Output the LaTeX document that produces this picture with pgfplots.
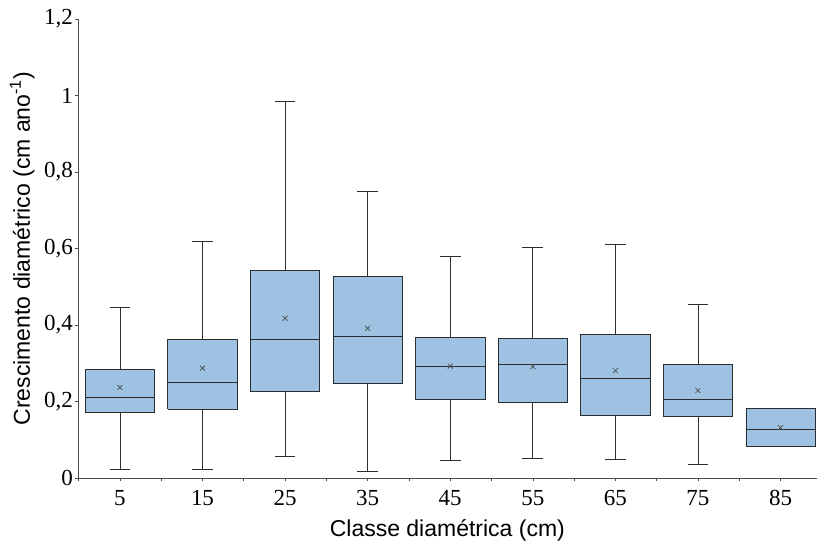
\documentclass[border=0pt]{standalone}
\usepackage{fontspec}
\setmainfont{Liberation Serif}
\newfontfamily\sansf{Liberation Sans}
\usepackage{pgfplots}
\pgfplotsset{compat=1.18}
\definecolor{boxblue}{RGB}{158,195,226}
\definecolor{edge}{RGB}{45,45,45}
% #1 position, #2 lower whisker, #3 lower quartile, #4 median, #5 upper quartile, #6 upper whisker
\newcommand\bx[6]{%
  \addplot[draw=edge, line width=0.7pt] table[row sep=\\, x expr=\thisrow{x}+#1] {x y\\ 0 #3\\ 0 #2\\};
  \addplot[draw=edge, line width=0.7pt] table[row sep=\\, x expr=\thisrow{x}+#1] {x y\\ 0 #5\\ 0 #6\\};
  \addplot[draw=edge, line width=0.7pt] table[row sep=\\, x expr=\thisrow{x}+#1] {x y\\ -0.125 #2\\ 0.125 #2\\};
  \addplot[draw=edge, line width=0.7pt] table[row sep=\\, x expr=\thisrow{x}+#1] {x y\\ -0.125 #6\\ 0.125 #6\\};
  \addplot[draw=edge, fill=boxblue, line width=0.7pt] table[row sep=\\, x expr=\thisrow{x}+#1] {x y\\ -0.42 #3\\ 0.42 #3\\ 0.42 #5\\ -0.42 #5\\ -0.42 #3\\};
  \addplot[draw=edge, line width=0.8pt] table[row sep=\\, x expr=\thisrow{x}+#1] {x y\\ -0.42 #4\\ 0.42 #4\\};
}
\begin{document}
\begin{tikzpicture}
\begin{axis}[name=ax, scale only axis, width=739pt, height=459.2pt,
  xmin=-0.508, xmax=8.438, ymin=0, ymax=1.2,
  axis x line*=bottom, axis y line*=left,
  axis line style={draw=black!70, line width=0.6pt},
  xtick={0,1,2,3,4,5,6,7,8},
  xticklabels={5,15,25,35,45,55,65,75,85},
  minor xtick={-0.5,0.5,1.5,2.5,3.5,4.5,5.5,6.5,7.5},
  ytick={0,0.2,0.4,0.6,0.8,1,1.2},
  yticklabels={0,{0,2},{0,4},{0,6},{0,8},1,{1,2}},
  tick align=outside, major tick length=3pt, minor tick length=3pt,
  tick style={draw=black!70, line width=0.6pt},
  /pgf/number format/assume math mode=true,
  ticklabel style={font=\fontsize{23}{23}\selectfont},
  xticklabel style={yshift=-6pt},
  yticklabel style={inner xsep=2pt},
]
\bx{0}{0.0235}{0.171}{0.212}{0.285}{0.447}
\bx{1}{0.0235}{0.180}{0.251}{0.363}{0.619}
\bx{2}{0.058}{0.2256}{0.3615}{0.5426}{0.985}
\bx{3}{0.0183}{0.2465}{0.371}{0.528}{0.749}
\bx{4}{0.047}{0.2047}{0.2917}{0.3675}{0.581}
\bx{5}{0.0504}{0.1986}{0.297}{0.366}{0.602}
\bx{6}{0.0487}{0.163}{0.261}{0.376}{0.6116}
\bx{7}{0.0366}{0.161}{0.2065}{0.298}{0.4548}
\addplot[draw=edge, fill=boxblue, line width=0.7pt] table[row sep=\\] {x y\\ 7.58 0.0836\\ 8.42 0.0836\\ 8.42 0.183\\ 7.58 0.183\\ 7.58 0.0836\\};
\addplot[draw=edge, line width=0.8pt] table[row sep=\\] {x y\\ 7.58 0.128\\ 8.42 0.128\\};
\addplot[only marks, mark=x, mark size=3.5pt, draw=black!70, line width=0.7pt] coordinates {
(0,0.237) (1,0.2875) (2,0.418) (3,0.392) (4,0.2927) (5,0.2917) (6,0.281) (7,0.229) (8,0.132)};
\end{axis}
\node[rotate=90, anchor=base, font=\sansf\fontsize{23}{23}\selectfont] at ([xshift=-48pt]ax.west) {Crescimento diamétrico (cm ano\textsuperscript{-1})};
\node[anchor=base, font=\sansf\fontsize{23}{23}\selectfont] at ([yshift=-58.4pt]ax.south) {Classe diamétrica (cm)};
\path (ax.south west) ++(-78pt,-67.7pt) rectangle ++(817pt,546pt);
\end{tikzpicture}
\end{document}
